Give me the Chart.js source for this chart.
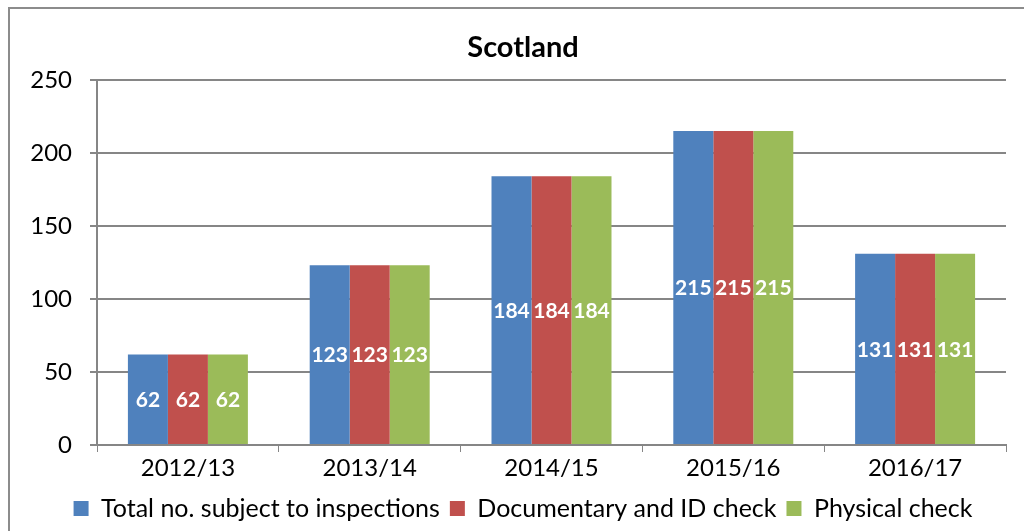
<!DOCTYPE html>
<html><head><meta charset="utf-8">
<script src="https://cdn.jsdelivr.net/npm/chart.js@4/dist/chart.umd.min.js"></script>
<style>
html,body{margin:0;padding:0;background:#fff;overflow:hidden;width:1024px;height:531px}
#wrap{position:absolute;left:0;top:0;width:1046px;height:531px}
</style></head><body>
<div id="wrap"><canvas id="c" width="1046" height="531"></canvas></div>
<script>
const categories = ["2012/13","2013/14","2014/15","2015/16","2016/17"];
const totalInspections = [62,123,184,215,131];
const documentaryIdCheck = [62,123,184,215,131];
const physicalCheck = [62,123,184,215,131];
const seriesNames = ["Total no. subject to inspections","Documentary and ID check","Physical check"];
const yTicks = [0,50,100,150,200,250];

const FONT = "Lato, 'Open Sans', sans-serif";

const borderPlugin = {
  id:'border',
  beforeDraw(chart){
    const ctx = chart.ctx;
    ctx.save();
    ctx.fillStyle='#fff';
    ctx.fillRect(0,0,chart.width,chart.height);
    ctx.strokeStyle='#8c8c8c';
    ctx.lineWidth=2;
    ctx.strokeRect(9,8,2000,2000);
    ctx.restore();
  }
};
const labelPlugin = {
  id:'barLabels',
  afterDatasetsDraw(chart){
    const ctx = chart.ctx;
    ctx.save();
    ctx.font = "bold 21px " + FONT;
    ctx.fillStyle = '#fff';
    ctx.textAlign='center';
    ctx.textBaseline='middle';
    chart.data.datasets.forEach((ds,i)=>{
      chart.getDatasetMeta(i).data.forEach((bar,j)=>{
        const y = (bar.y + bar.base)/2;
        ctx.fillText(String(ds.data[j]), bar.x, y+1);
      });
    });
    ctx.restore();
  }
};

new Chart(document.getElementById('c'),{
  type:'bar',
  data:{
    labels:categories,
    datasets:[
      {label:seriesNames[0],data:totalInspections,backgroundColor:'#4F81BD'},
      {label:seriesNames[1],data:documentaryIdCheck,backgroundColor:'#C0504D'},
      {label:seriesNames[2],data:physicalCheck,backgroundColor:'#9BBB59'}
    ]
  },
  options:{
    responsive:false,
    animation:false,
    layout:{padding:{left:0,right:0,top:0,bottom:0}},
    datasets:{bar:{categoryPercentage:0.66,barPercentage:1.0}},
    plugins:{
      title:{display:true,text:'Scotland',color:'#000',font:{family:FONT,size:29,weight:'bold'},padding:{top:30,bottom:15}},
      legend:{position:'bottom',labels:{color:'#000',font:{family:FONT,size:25},boxWidth:15,boxHeight:15,padding:10}},
      tooltip:{enabled:false}
    },
    scales:{
      x:{
        grid:{display:true,drawOnChartArea:false,color:'#868686',tickLength:7,offset:true},
        border:{color:'#868686',width:2},
        ticks:{color:'#000',font:{family:FONT,size:24},padding:2},
        afterFit(s){s.height=41;}
      },
      y:{
        min:0,max:250,
        afterBuildTicks(s){s.ticks=yTicks.map(v=>({value:v}));},
        grid:{color:'#868686',lineWidth:2,tickLength:7},
        border:{color:'#868686',width:2},
        ticks:{color:'#000',font:{family:FONT,size:24},padding:18},
        afterFit(s){s.width=97;}
      },
      spacer:{
        position:'right',
        display:true,
        grid:{display:false,drawOnChartArea:false},
        border:{display:false},
        ticks:{display:false},
        afterFit(s){s.width=40;}
      }
    }
  },
  plugins:[borderPlugin,labelPlugin]
});
</script>
</body></html>
